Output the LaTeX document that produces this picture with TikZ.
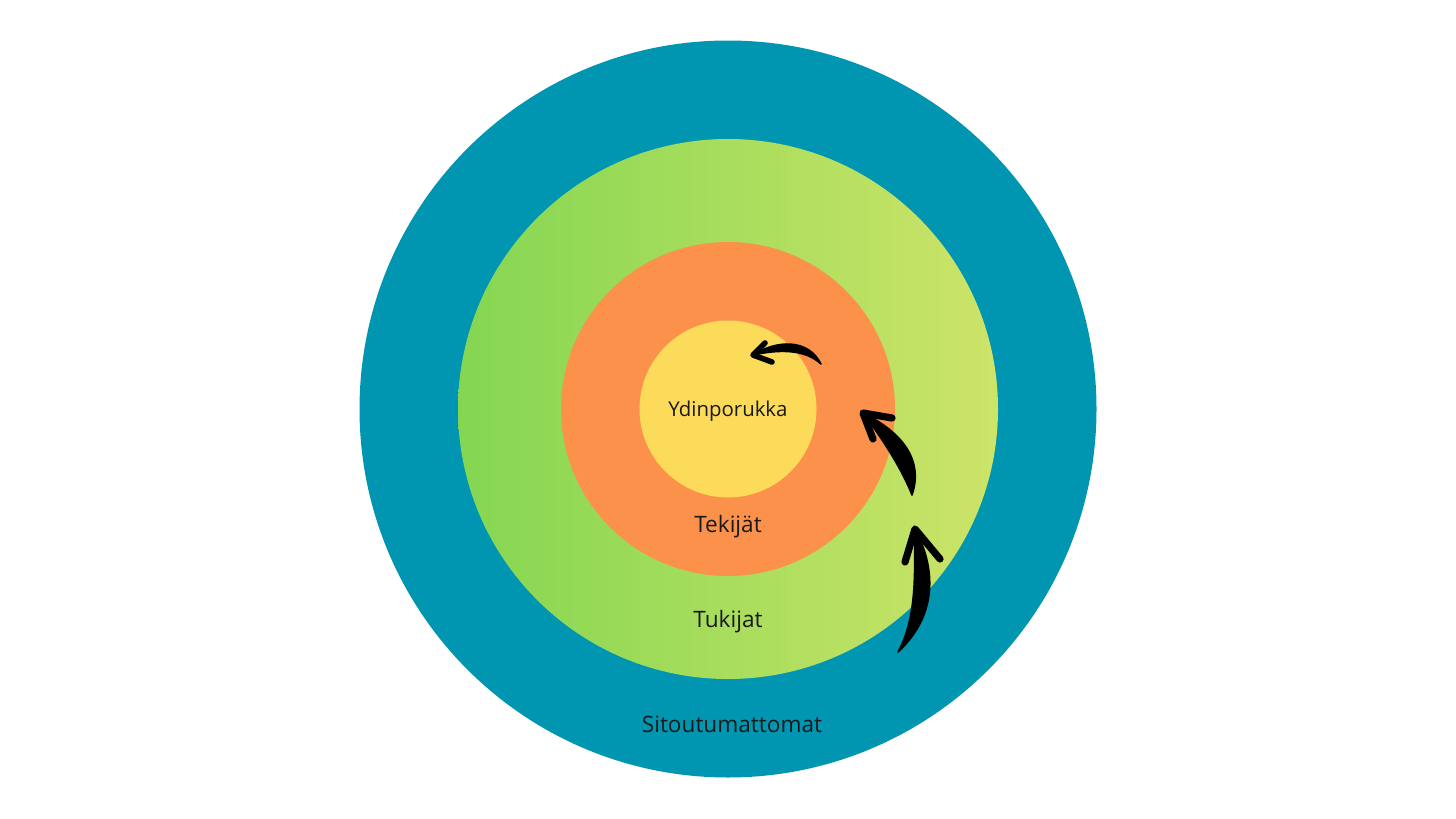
\documentclass[tikz,border=0pt]{standalone}
\usepackage{fontspec}
\setmainfont{Open Sans}
\usetikzlibrary{positioning}

\definecolor{sitoblue}{RGB}{0,150,178}
\definecolor{tukigreenL}{RGB}{132,214,82}
\definecolor{tukigreenR}{RGB}{205,228,104}
\definecolor{tekiorange}{RGB}{252,145,75}
\definecolor{ydinyellow}{RGB}{252,218,90}

\begin{document}
\begin{tikzpicture}
	[x=0.5pt,y=-0.5pt,
	ring/.style={circle,draw=none,inner sep=0pt},
	label/.style={font=\fontsize{11.3}{13}\selectfont,text=black!90,inner sep=0pt},
	brush/.style={fill=black,draw=black,line width=0.8pt,line join=round},
	barb/.style={draw=black,line width=3.6pt,line cap=round,line join=round}]
	\useasboundingbox [fill=white] (0,0) rectangle (1456,819);

	% rings
	\node [ring,fill=sitoblue,minimum size=368.5pt] (sito) at (728,409) {};
	\node [ring,left color=tukigreenL,right color=tukigreenR,minimum size=270pt] (tuki) at (728,409) {};
	\node [ring,fill=tekiorange,minimum size=167pt] (teki) at (728,409) {};
	\node [ring,fill=ydinyellow,minimum size=88.5pt] (ydin) at (728,409) {};

	% labels
	\node [label,font=\fontsize{10.2}{12}\selectfont] (ydinlabel) at (728,411) {Ydinporukka};
	\node [label] (tekilabel) at (728,527) {Tekijät};
	\node [label] (tukilabel) at (728,622) {Tukijat};
	\node [label] (sitolabel) at (732,724) {Sitoutumattomat};

	% arrows
	\coordinate (a1tail) at (821,364);
	\coordinate (a1tip) at (753,355);
	\fill [brush] (a1tail) .. controls (808,338) and (776,340) .. (a1tip)
		.. controls (776,350) and (804,348) .. (a1tail) -- cycle;
	\draw [barb,line width=2.8pt] (765,343) -- (a1tip) -- (772,362);

	\coordinate (a2tail) at (912,495);
	\coordinate (a2tip) at (863,413);
	\fill [brush] (a2tail) .. controls (924,460) and (902,432) .. (a2tip)
		.. controls (886,444) and (902,470) .. (a2tail) -- cycle;
	\draw [barb] (892,418) -- (a2tip) -- (873,439);

	\coordinate (a3tail) at (898,652);
	\coordinate (a3tip) at (915,529);
	\fill [brush] (a3tail) .. controls (938,615) and (936,568) .. (a3tip)
		.. controls (914,570) and (918,615) .. (a3tail) -- cycle;
	\draw [barb] (905,562) -- (a3tip) -- (940,559);

\end{tikzpicture}
\end{document}
